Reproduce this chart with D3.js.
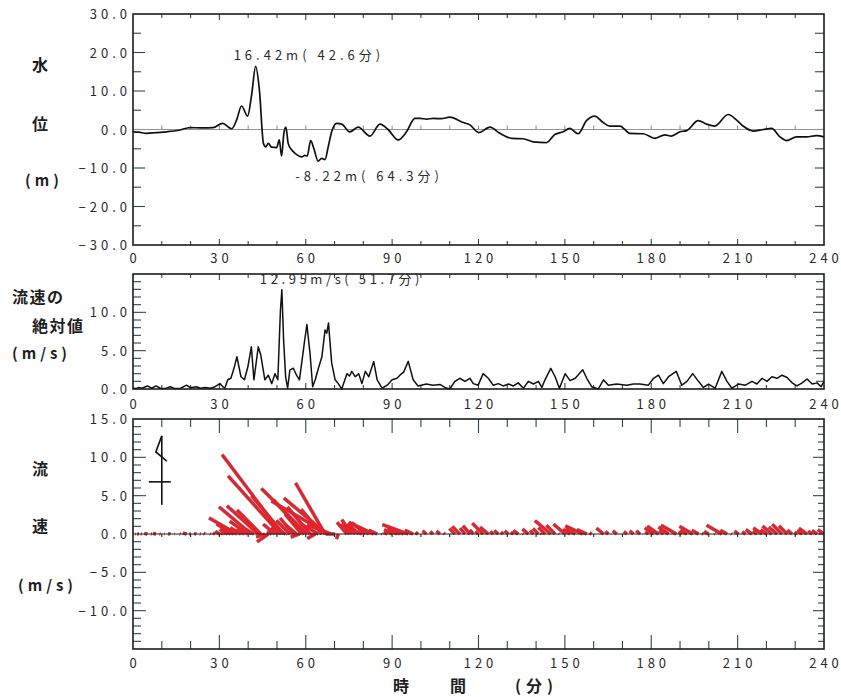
<!DOCTYPE html>
<html><head><meta charset="utf-8">
<script src="https://cdn.jsdelivr.net/npm/d3@7"></script>
<style>
html,body{margin:0;padding:0;background:#fff;}
svg text{font-family:"Noto Sans CJK JP","Noto Sans",sans-serif;}
</style></head><body>
<svg id="chart" width="841" height="697"></svg>
<script>
// ---------------- DATA ----------------
const timeLabels = [0, 30, 60, 90, 120, 150, 180, 210, 240];
const levelLabels = [30, 20, 10, 0, -10, -20, -30];
const speedLabels = [10, 5, 0];
const vectorLabels = [15, 10, 5, 0, -5, -10];

// water level (m) vs time (min)
const levelTime = [0,2,4.7,8,11.7, 16,19.8,24,27.8,31.1, 34.3,36,37.7,39.8,41.2,
  42.6,43.9,45.3,46.1,47.0, 48.1,49.9,50.8,51.6,52.4, 53.1,53.9,55,56.3,58.6,
  59.7,60.5,61.7,62.8,64.3, 65.5,66.7,67.8,69.0,70.7, 72.5,75.3,78.2,82.3,85.8,
  88.6,92.1,95.0,97.9,99.7, 102,104.3,107,110,114.7, 117,120.1,124,127.4,131.5,
  135.5,139,143.6,146.5,149.4, 151.7,154.6,157.5,160.4,163.3, 165.6,169.1,172.6,177.2,181.3,
  184.7,187,190,192.3,196.3, 199.2,202.1,206.7,209.6,211.9, 215.4,218.9,221.8,224.7,227,
  230.4,233.9,237.4,240];
const levelValue = [-0.6,-0.7,-1.0,-0.8,-0.6, -0.2,0.5,0.4,0.5,1.6, 0.2,2.5,6.1,3.5,9,
  16.42,10.3,-3.6,-4.5,-3.6, -4.6,-4.7,-2.7,-6.9,-1.0, 0.6,-3.6,-5.2,-6.2,-7.1,
  -6.7,-6.9,-2.9,-4.9,-8.22, -7.5,-7.8,-4.5,-0.6,1.6, 1.4,-0.6,0.6,-1.7,1.4,
  0,-2.7,-0.6,2.9,2.9, 2.7,2.9,2.8,3.2,1.8, 1.2,-0.8,0.6,-1.0,-2.3,
  -2.4,-3.2,-3.4,-1.3,-0.6, 0.3,-1.1,2.3,3.5,1.8, 0.9,0.9,-1.0,-1.1,-2.3,
  -1.4,-1.7,-0.6,-0.3,2.3, 1.4,0.9,3.9,2.5,0.9, -0.4,0,0.3,-1.9,-2.9,
  -1.9,-1.9,-1.6,-1.9];

// current velocity: time (min), speed (m/s), direction (deg clockwise from north)
const velTime = [
  0,1,2,3,5,6.5,8,9.5,11,13,
  14.5,16.5,18.6,20,22,23.5,25,27,28.5,30.2,
  31.2,31.9,32.9,34.0,35,36.1,37.5,38.7,39.9,41.1,
  42.0,43.5,44.4,45.8,47.0,48.2,49.3,50.3,51.2,51.7,
  52.3,53.0,53.7,54.5,55.7,56.8,57.8,58.6,59.5,60.4,
  61.5,62.4,63.3,64.4,65.6,66.7,67.3,67.9,69.0,70.2,
  71.3,72.5,74.3,75.2,76.0,77.2,78.4,79.5,80.7,81.9,
  83.6,84.8,86.5,88.3,90.0,91.7,92.7,94,95.6,97.3,
  99.0,101.9,104.2,106.6,108.3,110,111.8,113.5,115.3,117,
  118.2,119.9,121.6,123.4,125.1,126.9,128.6,130.4,132.1,133.8,
  135.6,137.3,139.1,140.8,142,143.1,145.1,146.6,148.1,150.1,
  151.8,153.6,156.2,157.6,159.3,161.6,163.4,165.1,168.0,171.5,
  173.8,176.1,179,180.8,182.5,184.2,186,188.7,190.6,192.4,
  194.4,196.4,198.1,199.9,202.2,204.5,206.3,208,210.3,212.7,
  215,216.7,218.5,220.2,221.9,223.7,225.4,227.2,228.9,230.6,
  232.4,234.1,235.9,237.6,239,240];
const velSpeed = [
  0.1,0.05,0.2,0.1,0.4,0.1,0.4,0.1,0.05,0.3,
  0.05,0.1,0.5,0.15,0.3,0.1,0.2,0.1,0.3,0.7,
  0.3,0.1,1.2,1.4,2.6,4.2,1.6,1.2,2.9,5.5,
  1.2,5.5,4.4,1.2,1.8,0.7,2.0,1.2,10.2,12.95,
  6.5,1.6,0.1,2.5,2.7,1.8,1.2,3.4,6.0,8.4,
  4.6,0.3,1.2,2.7,4.2,7.7,7.3,8.6,3.4,1.2,
  0.7,0,2.0,1.7,2.3,1.6,2.0,0.7,2.3,1.6,
  3.6,1.2,0.1,0.5,1.2,1.4,1.8,2.2,3.6,1.2,
  0.4,0.65,0.5,0.6,0.2,0,1.0,1.4,1.0,1.4,
  0.7,0.5,2.0,1.4,0.5,0.7,0.4,0.65,0.4,0.8,
  0.1,1.0,0.65,1.0,0.2,1.2,2.7,1.6,0.1,2.0,
  1.1,1.4,2.5,1.4,0.3,0,1.2,0.5,0.65,0.5,
  0.65,0.65,0.5,1.4,1.8,0.7,1.6,2.3,0.5,1.0,
  2.0,1.0,0.2,0.65,0.1,2.3,1.0,0.1,0.65,0.5,
  1.0,0.65,1.4,1.0,1.6,1.4,1.8,1.5,0.8,0.4,
  0.8,1.3,0.65,0.8,0.3,1.0];
const velDir = [
  275,275,275,275,280,280,280,280,280,280,
  280,285,285,285,285,285,300,300,300,300,
  300,300,300,300,300,300,300,300,305,310,
  300,312,315,250,235,300,310,315,318,323,
  320,300,300,315,320,310,250,320,318,315,
  320,250,240,300,320,330,310,300,290,270,
  200,200,320,320,325,320,315,300,310,305,
  295,295,295,295,300,300,300,295,290,295,
  300,310,310,310,310,310,315,315,320,320,
  320,315,315,310,310,310,310,310,305,305,
  305,310,315,315,315,315,310,315,310,310,
  305,300,295,295,295,295,310,310,310,310,
  310,310,310,305,305,310,305,300,300,300,
  300,300,300,300,300,300,300,300,305,305,
  305,305,305,305,310,310,315,315,310,310,
  305,305,305,305,305,305];

const levelMax = [42.6, 16.42];
const levelMin = [64.3, -8.22];
const speedMax = [51.7, 12.95];

// ---------------- LAYOUT ----------------
const svg = d3.select("#chart");
const L = 133, R = 824;
const x = d3.scaleLinear().domain([0, 240]).range([L, R]);
const yLevel = d3.scaleLinear().domain([-30, 30]).range([245, 14]);
const ySpeed = d3.scaleLinear().domain([0, 15]).range([389, 274]);
const yVec = d3.scaleLinear().domain([-15, 15]).range([649, 419]);

const tickColor = "#2d4852";
const frameColor = "#1c1c1c";
const textColor = "#2a2a2a";
const fmt = d3.format(".1f");

// spread glyphs by adding sp px between characters (no trailing space)
function spaced(sel, sp) {
  sel.each(function () {
    const n = this.textContent.length;
    if (n < 2) return;
    const w = this.getComputedTextLength();
    this.setAttribute("textLength", w + (n - 1) * sp);
    this.setAttribute("lengthAdjust", "spacing");
  });
}
function ticksY(g, ys, values, xPos, len, dir) {
  g.append("g").selectAll("line").data(values).join("line")
    .attr("x1", xPos).attr("x2", xPos + dir * len)
    .attr("y1", d => ys(d)).attr("y2", d => ys(d))
    .attr("stroke", tickColor).attr("stroke-width", 1.1);
}
function ticksX(g, values, yPos, len, dir, color) {
  g.append("g").selectAll("line").data(values).join("line")
    .attr("x1", d => x(d)).attr("x2", d => x(d))
    .attr("y1", yPos).attr("y2", yPos + dir * len)
    .attr("stroke", color || tickColor).attr("stroke-width", 1.1);
}
function frame(g, ys) {
  const [b, t] = ys.range();
  g.append("rect").attr("x", L).attr("y", t).attr("width", R - L).attr("height", b - t)
    .attr("fill", "none").attr("stroke", frameColor).attr("stroke-width", 1.6);
}
function yLabels(g, ys, values) {
  g.append("g").selectAll("text").data(values).join("text")
    .attr("x", L - 6).attr("y", d => ys(d) + 5)
    .attr("text-anchor", "end").attr("font-size", 13)
    .attr("fill", textColor).text(d => fmt(d))
    .call(spaced, 4);
}
function xLabels(g, yPos) {
  g.append("g").selectAll("text").data(timeLabels).join("text")
    .attr("x", d => x(d)).attr("y", yPos)
    .attr("text-anchor", "middle").attr("font-size", 13)
    .attr("fill", textColor).text(d => d)
    .call(spaced, 4);
}
function xTickSet(g, ys, majorLen, minorLen) {
  const [b, t] = ys.range();
  const all = d3.range(10, 240, 10);
  const major = all.filter(d => d % 30 === 0);
  const minor = all.filter(d => d % 30 !== 0);
  ticksX(g, major, t, majorLen, 1);
  ticksX(g, minor, t, minorLen, 1);
  ticksX(g, major, b, majorLen, -1);
  ticksX(g, minor, b, minorLen, -1);
}
function title(txt, xPos, yPos, anchor, spacing, size) {
  svg.append("text").attr("x", xPos).attr("y", yPos)
    .attr("text-anchor", anchor || "middle").attr("font-size", size || 16)
    .attr("font-weight", "bold").attr("letter-spacing", (spacing || 0) + "px")
    .attr("fill", "#1e1e1e").text(txt);
}

// ---------------- PANEL 1 : water level ----------------
const g1 = svg.append("g");
ticksY(g1, yLevel, d3.range(-20, 30, 10), L, 12, 1);
ticksY(g1, yLevel, d3.range(-25, 30, 10), L, 8, 1);
ticksY(g1, yLevel, d3.range(-25, 30, 5), R, 9, -1);
xTickSet(g1, yLevel, 6, 4);
g1.append("line").attr("x1", L).attr("x2", R).attr("y1", yLevel(0)).attr("y2", yLevel(0))
  .attr("stroke", "#8d9598").attr("stroke-width", 1.2);
ticksX(g1, d3.range(10, 240, 10), yLevel(0), 4, -1, "#8d9598");
g1.append("path").datum(levelTime.map((t, i) => [t, levelValue[i]]))
  .attr("fill", "none").attr("stroke", "#111").attr("stroke-width", 1.7)
  .attr("stroke-linejoin", "round")
  .attr("d", d3.line().x(d => x(d[0])).y(d => yLevel(d[1])).curve(d3.curveMonotoneX));
frame(g1, yLevel);
yLabels(g1, yLevel, levelLabels);
xLabels(g1, 263);
g1.append("text").attr("x", x(levelMax[0]) - 22).attr("y", yLevel(levelMax[1]) - 6)
  .attr("font-size", 13).attr("fill", textColor)
  .text(`${levelMax[1].toFixed(2)}m( ${levelMax[0].toFixed(1)}分)`).call(spaced, 4);
g1.append("text").attr("x", x(levelMin[0]) - 23).attr("y", yLevel(levelMin[1]) + 20)
  .attr("font-size", 13).attr("fill", textColor)
  .text(`${levelMin[1].toFixed(2)}m( ${levelMin[0].toFixed(1)}分)`).call(spaced, 4);

// ---------------- PANEL 2 : speed magnitude ----------------
const g2 = svg.append("g");
const sp1 = d3.range(1, 15).filter(d => d % 5 !== 0);
ticksY(g2, ySpeed, sp1, L, 8, 1);
ticksY(g2, ySpeed, [5, 10], L, 13, 1);
ticksY(g2, ySpeed, sp1, R, 8, -1);
ticksY(g2, ySpeed, [5, 10], R, 11, -1);
xTickSet(g2, ySpeed, 6, 4);
g2.append("path").datum(velTime.map((t, i) => [t, velSpeed[i]]))
  .attr("fill", "none").attr("stroke", "#111").attr("stroke-width", 1.5)
  .attr("stroke-linejoin", "round")
  .attr("d", d3.line().x(d => x(d[0])).y(d => ySpeed(d[1])));
frame(g2, ySpeed);
yLabels(g2, ySpeed, speedLabels);
xLabels(g2, 409);
g2.append("text").attr("x", x(speedMax[0]) - 22).attr("y", ySpeed(speedMax[1]) - 6)
  .attr("font-size", 13).attr("fill", textColor)
  .text(`${speedMax[1].toFixed(2)}m/s( ${speedMax[0].toFixed(1)}分)`).call(spaced, 3.6);

// ---------------- PANEL 3 : velocity vectors ----------------
const g3 = svg.append("g");
const v1 = d3.range(-14, 15).filter(d => d % 5 !== 0);
const v5 = [-10, -5, 5, 10];
ticksY(g3, yVec, v1, L, 8, 1);
ticksY(g3, yVec, v5, L, 13, 1);
ticksY(g3, yVec, v1, R, 6, -1);
ticksY(g3, yVec, v5, R, 11, -1);
xTickSet(g3, yVec, 14, 8);

svg.append("clipPath").attr("id", "clip3").append("rect")
  .attr("x", L).attr("y", yVec(15)).attr("width", R - L).attr("height", yVec(-15) - yVec(15));
const k = yVec(0) - yVec(1); // px per m/s
const sticks = velTime.map((t, i) => {
  const a = velDir[i] * Math.PI / 180, s = velSpeed[i];
  return {x1: x(t), y1: yVec(0), x2: x(t) + s * Math.sin(a) * k, y2: yVec(s * Math.cos(a))};
});
const sg = g3.append("g").attr("clip-path", "url(#clip3)");
sg.append("g").selectAll("line").data(sticks).join("line")
  .attr("x1", d => d.x1).attr("y1", d => d.y1).attr("x2", d => d.x2).attr("y2", d => d.y2)
  .attr("stroke", "#a0939a").attr("stroke-width", 3.8).attr("stroke-linecap", "butt");
sg.append("g").selectAll("line").data(sticks).join("line")
  .attr("x1", d => d.x1).attr("y1", d => d.y1).attr("x2", d => d.x2).attr("y2", d => d.y2)
  .attr("stroke", "#e5222a").attr("stroke-width", 2.9).attr("stroke-linecap", "butt");
g3.append("line").attr("x1", L).attr("x2", R).attr("y1", yVec(0)).attr("y2", yVec(0))
  .attr("stroke", "#222").attr("stroke-width", 1.2);
ticksX(g3, d3.range(10, 240, 10), yVec(0), 3, 1, "#222");

// north symbol
const nx = x(10);
const ng = g3.append("g").attr("stroke", "#111").attr("stroke-width", 1.6).attr("fill", "none");
ng.append("line").attr("x1", nx).attr("x2", nx).attr("y1", yVec(12.8)).attr("y2", yVec(3.8));
ng.append("line").attr("x1", nx - 13).attr("x2", nx + 9).attr("y1", yVec(6.8)).attr("y2", yVec(6.8));
ng.append("path").attr("d", d3.line()([[nx, yVec(12.8)], [nx - 6, yVec(10.7)], [nx + 5, yVec(9.5)]]));

frame(g3, yVec);
yLabels(g3, yVec, vectorLabels);
xLabels(g3, 668);

// ---------------- TITLES ----------------
title("水", 40, 71);
title("位", 40, 130);
title("(m)", 44, 186, "middle", 4, 15);
title("流速の", 12, 303, "start", 1.5);
title("絶対値", 32, 332, "start", 1.5);
title("(m/s)", 12, 359, "start", 4, 15);
title("流", 40, 475);
title("速", 40, 532);
title("(m/s)", 18, 591, "start", 4, 15);
title("時", 393, 692, "start");
title("間", 450, 692, "start");
title("(分)", 515, 692, "start", 5, 16);
</script>
</body></html>
